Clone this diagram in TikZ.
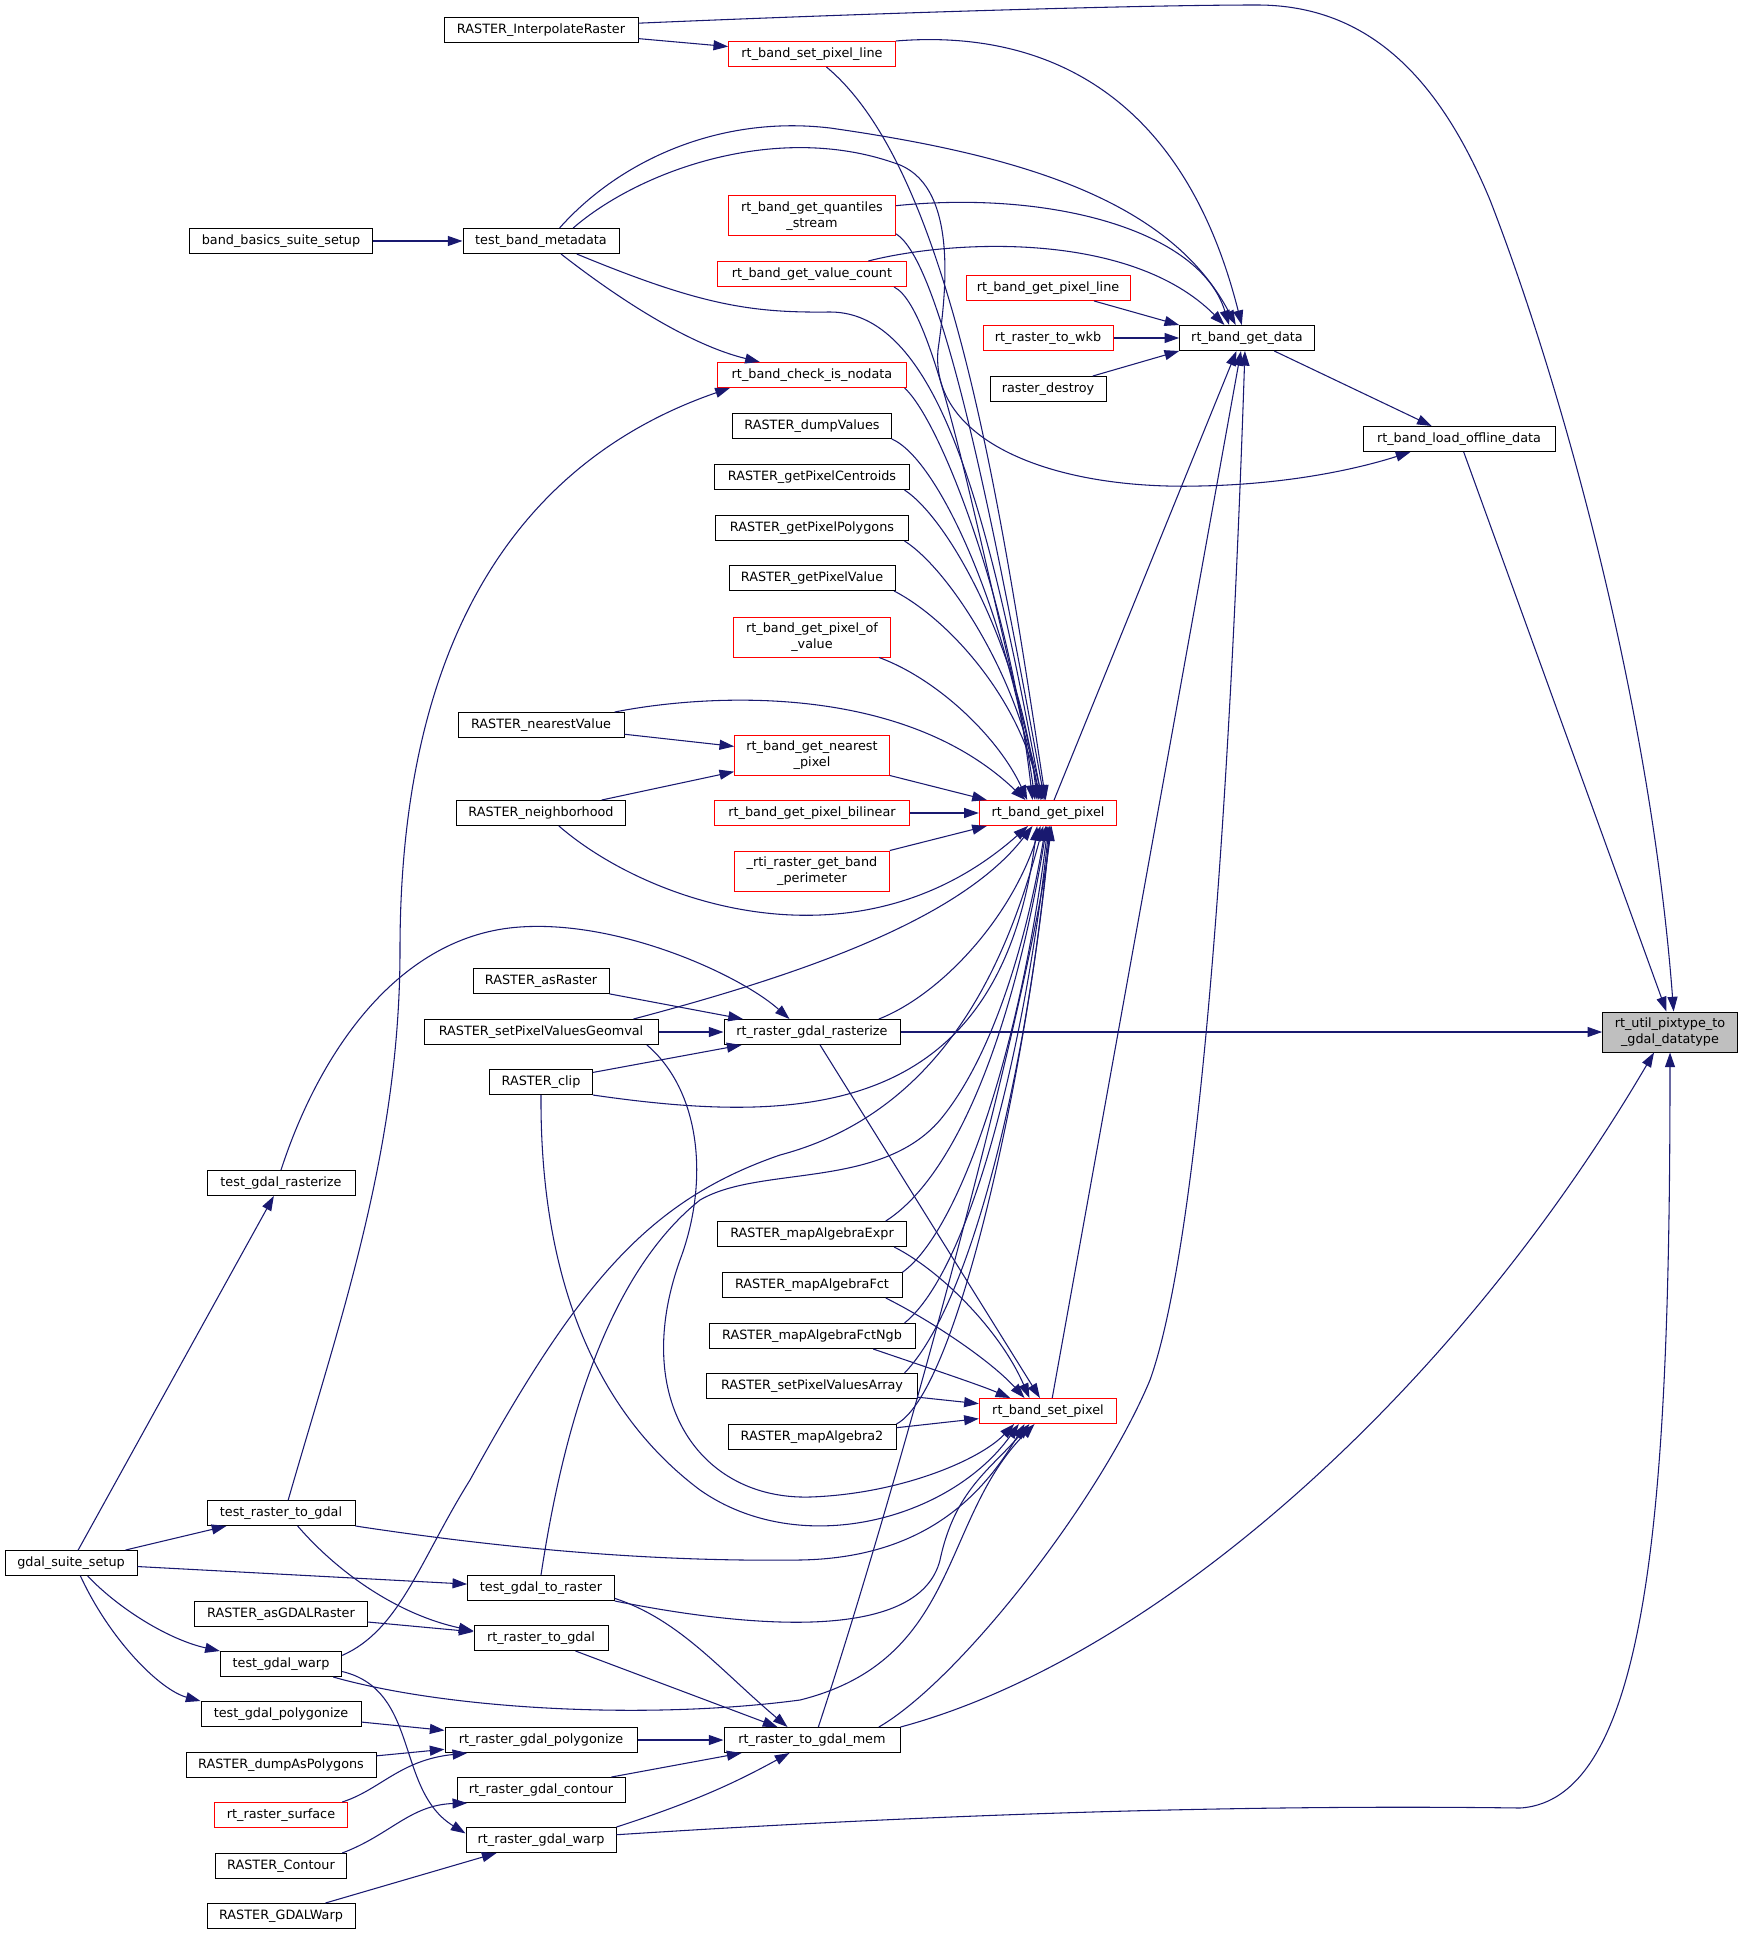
\documentclass[tikz,border=0pt]{standalone}
\usepackage{fontspec}
\setmainfont{DejaVu Sans}
\usepackage{tikz}
\usetikzlibrary{arrows.meta}
\definecolor{edgeblue}{HTML}{191970}
\definecolor{rootgray}{HTML}{BFBFBF}

\begin{document}
\begin{tikzpicture}[x=0.75pt,y=-0.75pt,
  every node/.style={draw=black, rectangle, line width=0.75pt, fill=white, inner sep=1pt,
    minimum height=18.75pt, align=center, font=\fontsize{9.6}{11.5}\selectfont},
  redbox/.style={draw=red},
  twoline/.style={minimum height=30pt},
  calls/.style={draw=edgeblue, line width=0.8pt, -{Triangle[length=11pt,width=7.5pt]}}]
\useasboundingbox (0,0) rectangle (1743,1937);

\node[minimum width=145.5pt] (interp) at (541,30) {RASTER\_InterpolateRaster};
\node[redbox, minimum width=125pt] (setpixline) at (812,54) {rt\_band\_set\_pixel\_line};
\node[minimum width=137pt] (bandbasics) at (281,241) {band\_basics\_suite\_setup};
\node[minimum width=117pt] (testbandmeta) at (541,241) {test\_band\_metadata};
\node[redbox, twoline, minimum width=125pt] (quantiles) at (812,216) {rt\_band\_get\_quantiles\\\_stream};
\node[redbox, minimum width=142pt] (valuecount) at (812,274) {rt\_band\_get\_value\_count};
\node[redbox, minimum width=123pt] (getpixelline) at (1048,288) {rt\_band\_get\_pixel\_line};
\node[redbox, minimum width=97.5pt] (towkb) at (1048,338) {rt\_raster\_to\_wkb};
\node[minimum width=87pt] (destroy) at (1048,389) {raster\_destroy};
\node[minimum width=101pt] (getdata) at (1247,338) {rt\_band\_get\_data};
\node[minimum width=144pt] (loadoffline) at (1459,439) {rt\_band\_load\_offline\_data};
\node[redbox, minimum width=142pt] (checknodata) at (812,375) {rt\_band\_check\_is\_nodata};
\node[minimum width=119pt] (dumpvalues) at (812,426) {RASTER\_dumpValues};
\node[minimum width=146pt] (centroids) at (812,477) {RASTER\_getPixelCentroids};
\node[minimum width=145pt] (polygons) at (812,528) {RASTER\_getPixelPolygons};
\node[minimum width=124.5pt] (pixelvalue) at (812,578) {RASTER\_getPixelValue};
\node[redbox, twoline, minimum width=118pt] (pixelofvalue) at (812,637) {rt\_band\_get\_pixel\_of\\\_value};
\node[minimum width=124.5pt] (nearestvalue) at (541,725) {RASTER\_nearestValue};
\node[redbox, twoline, minimum width=116pt] (nearestpixel) at (812,755) {rt\_band\_get\_nearest\\\_pixel};
\node[minimum width=127pt] (neighborhood) at (541,813) {RASTER\_neighborhood};
\node[redbox, minimum width=146pt] (bilinear) at (812,813) {rt\_band\_get\_pixel\_bilinear};
\node[redbox, minimum width=103pt] (getpixel) at (1048,813) {rt\_band\_get\_pixel};
\node[redbox, twoline, minimum width=116pt] (perimeter) at (812,871) {\_rti\_raster\_get\_band\\\_perimeter};
\node[minimum width=102pt] (asraster) at (541,981) {RASTER\_asRaster};
\node[minimum width=175.5pt] (setpixgeomval) at (541,1032) {RASTER\_setPixelValuesGeomval};
\node[minimum width=132pt] (rasterize) at (812,1032) {rt\_raster\_gdal\_rasterize};
\node[fill=rootgray, twoline, minimum width=101pt] (util) at (1670,1032) {rt\_util\_pixtype\_to\\\_gdal\_datatype};
\node[minimum width=77pt] (clip) at (541,1082) {RASTER\_clip};
\node[minimum width=111pt] (testgdalrasterize) at (281,1183) {test\_gdal\_rasterize};
\node[minimum width=142pt] (mapalgexpr) at (812,1234) {RASTER\_mapAlgebraExpr};
\node[minimum width=135pt] (mapalgfct) at (812,1285) {RASTER\_mapAlgebraFct};
\node[minimum width=154.5pt] (mapalgfctngb) at (812,1336) {RASTER\_mapAlgebraFctNgb};
\node[minimum width=158pt] (setpixvalarray) at (812,1386) {RASTER\_setPixelValuesArray};
\node[redbox, minimum width=103pt] (setpixel) at (1048,1411) {rt\_band\_set\_pixel};
\node[minimum width=126pt] (mapalg2) at (812,1437) {RASTER\_mapAlgebra2};
\node[minimum width=111pt] (testrastertogdal) at (281,1513) {test\_raster\_to\_gdal};
\node[minimum width=99pt] (gdalsuite) at (71,1563) {gdal\_suite\_setup};
\node[minimum width=110pt] (testgdaltoraster) at (541,1588) {test\_gdal\_to\_raster};
\node[minimum width=130pt] (asgdalraster) at (281,1614) {RASTER\_asGDALRaster};
\node[minimum width=100.5pt] (rastertogdal) at (541,1638) {rt\_raster\_to\_gdal};
\node[minimum width=91pt] (testgdalwarp) at (281,1664) {test\_gdal\_warp};
\node[minimum width=120pt] (testgdalpolygonize) at (281,1714) {test\_gdal\_polygonize};
\node[minimum width=144pt] (polygonize) at (541,1740) {rt\_raster\_gdal\_polygonize};
\node[minimum width=132pt] (togdalmem) at (812,1740) {rt\_raster\_to\_gdal\_mem};
\node[minimum width=142.5pt] (dumpaspolygons) at (281,1765) {RASTER\_dumpAsPolygons};
\node[minimum width=126pt] (contour) at (541,1790) {rt\_raster\_gdal\_contour};
\node[redbox, minimum width=100pt] (surface) at (281,1815) {rt\_raster\_surface};
\node[minimum width=112.5pt] (warp) at (541,1840) {rt\_raster\_gdal\_warp};
\node[minimum width=98pt] (rastercontour) at (281,1866) {RASTER\_Contour};
\node[minimum width=111pt] (gdalwarpraster) at (281,1916) {RASTER\_GDALWarp};

% rt_util_pixtype_to_gdal_datatype
\draw[calls] (interp.4) .. controls (900,12) and (1150,5) .. (1257,5) .. controls (1370,5) and (1440,80) .. (1490,200) .. controls (1560,380) and (1650,700) .. (util.80);
\draw[calls] (loadoffline) to (util.100);
\draw[calls] (rasterize) to (util);
\draw[calls] (togdalmem.north east) .. controls (1150,1660) and (1450,1400) .. (util.-128);
\draw[calls] (warp.4) .. controls (1000,1810) and (1300,1805) .. (1520,1808) .. controls (1650,1800) and (1670,1500) .. (util.south);

% rt_band_load_offline_data
\draw[calls] (getdata) to (loadoffline);
\draw[calls] (testbandmeta.22) .. controls (640,170) and (780,120) .. (900,165) .. controls (960,190) and (945,300) .. (938,350) .. controls (930,440) and (1050,490) .. (1200,486) .. controls (1300,484) and (1370,465) .. (loadoffline.-165);

% rt_band_get_data
\draw[calls] (setpixline.north east) .. controls (1030,30) and (1180,80) .. (getdata.112);
\draw[calls] (testbandmeta.35) .. controls (620,160) and (720,115) .. (830,128) .. controls (1020,155) and (1170,200) .. (getdata.131);
\draw[calls] (quantiles.7) .. controls (1050,190) and (1200,230) .. (getdata.144);
\draw[calls] (valuecount.13) .. controls (950,240) and (1130,230) .. (getdata.150);
\draw[calls] (getpixelline) to (getdata.north west);
\draw[calls] (towkb) to (getdata);
\draw[calls] (destroy) to (getdata.south west);
\draw[calls] (getpixel.65) to (getdata.-129);
\draw[calls] (setpixel.72) to (getdata.-115);
\draw[calls] (togdalmem.11) .. controls (960,1680) and (1100,1500) .. (1150,1380) .. controls (1200,1240) and (1230,800) .. (getdata.-99);

% rt_band_set_pixel_line
\draw[calls] (interp) to (setpixline);

% rt_band_get_pixel, from above
\draw[calls] (setpixline.-42) .. controls (950,170) and (1000,500) .. (getpixel.100);
\draw[calls] (quantiles.-12) .. controls (940,260) and (990,500) .. (getpixel.105);
\draw[calls] (valuecount.-9) .. controls (940,310) and (980,560) .. (getpixel.110);
\draw[calls] (testbandmeta.-20) .. controls (700,305) and (750,313) .. (830,312) .. controls (940,312) and (990,520) .. (getpixel.115);
\draw[calls] (checknodata.-8) .. controls (940,420) and (1010,600) .. (getpixel.140);
\draw[calls] (dumpvalues.south east) .. controls (940,460) and (1010,620) .. (getpixel.135);
\draw[calls] (centroids.-8) .. controls (950,520) and (1020,650) .. (getpixel.130);
\draw[calls] (polygons.-8) .. controls (950,570) and (1020,680) .. (getpixel.125);
\draw[calls] (pixelvalue.-9) .. controls (950,620) and (1020,700) .. (getpixel.120);
\draw[calls] (pixelofvalue.-17) .. controls (940,680) and (1000,740) .. (getpixel.148);
\draw[calls] (nearestvalue.10) .. controls (700,695) and (900,680) .. (getpixel.150);
\draw[calls] (nearestpixel.south east) to (getpixel.168);
\draw[calls] (bilinear) to (getpixel);
\draw[calls] (perimeter.north east) to (getpixel.-168);

% rt_band_get_pixel, from below
\draw[calls] (neighborhood.-36) .. controls (650,905) and (860,975) .. (getpixel.-147);
\draw[calls] (setpixgeomval.8) .. controls (800,975) and (960,920) .. (getpixel.-140);
\draw[calls] (rasterize.11) .. controls (940,995) and (1010,920) .. (getpixel.-120);
\draw[calls] (clip.south east) .. controls (800,1125) and (1000,1120) .. (getpixel.-130);
\draw[calls] (testgdalwarp.8) .. controls (400,1630) and (420,1560) .. (470,1480) .. controls (580,1280) and (650,1200) .. (780,1155) .. controls (950,1110) and (1010,950) .. (getpixel.-110);
\draw[calls] (testgdaltoraster.north) .. controls (560,1450) and (600,1280) .. (700,1200) .. controls (760,1165) and (880,1190) .. (940,1120) .. controls (990,1060) and (1025,950) .. (getpixel.-100);
\draw[calls] (mapalgexpr.10) .. controls (950,1180) and (1010,1050) .. (getpixel.-95);
\draw[calls] (mapalgfct.8) .. controls (960,1230) and (1020,1050) .. (getpixel.-90);
\draw[calls] (mapalgfctngb.8) .. controls (970,1270) and (1025,1050) .. (getpixel.-85);
\draw[calls] (setpixvalarray.8) .. controls (975,1300) and (1030,1050) .. (getpixel.-82);
\draw[calls] (mapalg2.north east) .. controls (960,1390) and (1030,1050) .. (getpixel.-80);
\draw[calls] (togdalmem.64) .. controls (900,1480) and (1030,1000) .. (getpixel.-75);

% rt_band_check_is_nodata
\draw[calls] (testbandmeta.-33) .. controls (620,300) and (690,345) .. (checknodata.166);
\draw[calls] (testrastertogdal.61) .. controls (340,1320) and (400,1150) .. (400,950) .. controls (400,600) and (550,450) .. (checknodata.-171);

% rt_band_set_pixel
\draw[calls] (rasterize) to (setpixel);
\draw[calls] (mapalgexpr.-9) .. controls (940,1270) and (1000,1330) .. (setpixel.145);
\draw[calls] (mapalgfct.-10) .. controls (930,1320) and (990,1360) .. (setpixel.151);
\draw[calls] (mapalgfctngb.-12) .. controls (920,1365) and (980,1385) .. (setpixel.161);
\draw[calls] (setpixvalarray) to (setpixel);
\draw[calls] (mapalg2) to (setpixel);
\draw[calls] (setpixgeomval.-7) .. controls (700,1090) and (710,1180) .. (680,1260) .. controls (630,1400) and (700,1500) .. (810,1497) .. controls (900,1494) and (980,1460) .. (setpixel.-159);
\draw[calls] (clip.south) .. controls (540,1250) and (580,1400) .. (700,1490) .. controls (800,1560) and (950,1520) .. (setpixel.-156);
\draw[calls] (testrastertogdal.south east) .. controls (500,1548) and (650,1562) .. (800,1560) .. controls (920,1558) and (980,1500) .. (setpixel.-151);
\draw[calls] (testgdaltoraster.south east) .. controls (760,1630) and (920,1640) .. (940,1560) .. controls (955,1490) and (990,1470) .. (setpixel.-145);
\draw[calls] (testgdalwarp.-14) .. controls (450,1710) and (650,1720) .. (800,1700) .. controls (960,1660) and (940,1520) .. (setpixel.-136);

% rt_raster_gdal_rasterize
\draw[calls] (asraster) to (rasterize);
\draw[calls] (setpixgeomval) to (rasterize);
\draw[calls] (clip) to (rasterize);
\draw[calls] (testgdalrasterize.north) .. controls (320,1050) and (400,935) .. (520,927) .. controls (620,920) and (740,975) .. (rasterize.150);

% rt_band_get_nearest_pixel
\draw[calls] (nearestvalue) to (nearestpixel);
\draw[calls] (neighborhood) to (nearestpixel);

% test_band_metadata
\draw[calls] (bandbasics) to (testbandmeta);

% gdal_suite_setup
\draw[calls] (gdalsuite) to (testgdalrasterize);
\draw[calls] (gdalsuite) to (testrastertogdal);
\draw[calls] (gdalsuite) to (testgdaltoraster);
\draw[calls] (gdalsuite.-38) .. controls (120,1610) and (170,1640) .. (testgdalwarp.north west);
\draw[calls] (gdalsuite.-54) .. controls (110,1640) and (160,1690) .. (testgdalpolygonize.north west);

% rt_raster_to_gdal
\draw[calls] (testrastertogdal.-38) .. controls (340,1575) and (400,1615) .. (rastertogdal.174);
\draw[calls] (asgdalraster) to (rastertogdal);

% rt_raster_gdal_polygonize, _contour, _warp
\draw[calls] (testgdalpolygonize) to (polygonize);
\draw[calls] (dumpaspolygons) to (polygonize);
\draw[calls] (surface.12) .. controls (380,1790) and (400,1760) .. (polygonize.-170);
\draw[calls] (rastercontour.12) .. controls (390,1835) and (410,1805) .. (contour.-170);
\draw[calls] (gdalwarpraster) to (warp);
\draw[calls] (testgdalwarp.-7) .. controls (420,1690) and (395,1790) .. (warp.175);

% rt_raster_to_gdal_mem
\draw[calls] (testgdaltoraster.-8) .. controls (680,1620) and (720,1670) .. (togdalmem.152);
\draw[calls] (rastertogdal) to (togdalmem);
\draw[calls] (polygonize) to (togdalmem);
\draw[calls] (contour) to (togdalmem);
\draw[calls] (warp.north east) .. controls (700,1800) and (740,1780) .. (togdalmem.-150);
\end{tikzpicture}
\end{document}
